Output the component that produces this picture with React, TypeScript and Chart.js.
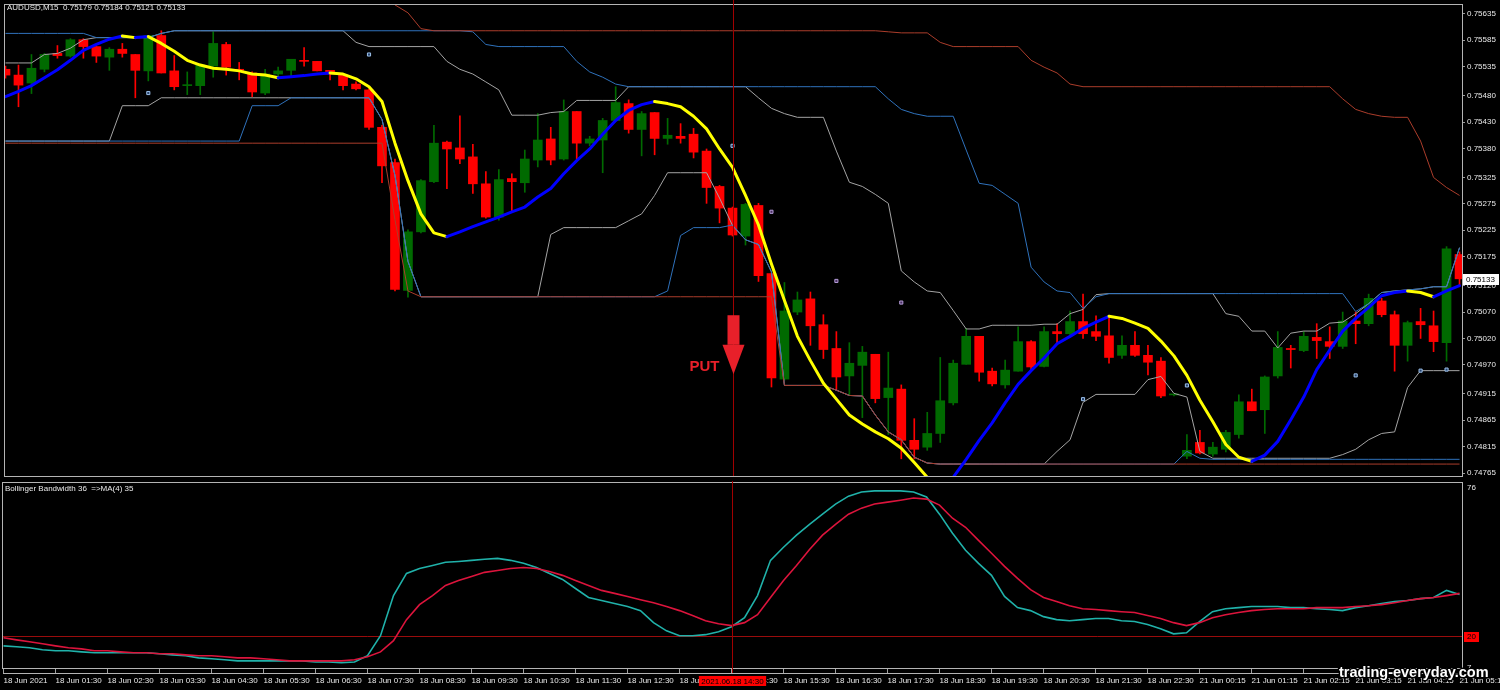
import React, { useEffect, useRef } from 'react';
import { Chart, registerables } from 'chart.js';

Chart.register(...registerables);

const FONT = "'Liberation Sans', Arial, sans-serif";

// ---------- meta ----------
const symbol = 'AUDUSD,M15';
const lowerTitle = 'Bollinger Bandwidth 36  =>MA(4) 35';
const crossIndex = 56;
const crossTimeLabel = '2021.06.18 14:30';
const signalIndex = 56;
const signalText = 'PUT';
const arrowTop = 0.75064;
const arrowNeck = 0.75008;
const arrowTip = 0.74952;
const levelValue = 20;
const lowerMax = 76;
const lowerMin = 8.3;
const lowerMaxLabel = '76';
const lowerMinLabel = '7';

const priceTicks = [0.75635, 0.75585, 0.75535, 0.7548, 0.7543, 0.7538, 0.75325, 0.75275, 0.75225, 0.75175,
  0.7512, 0.7507, 0.7502, 0.7497, 0.74915, 0.74865, 0.74815, 0.74765];

const timeTickIndex = [0, 4, 8, 12, 16, 20, 24, 28, 32, 36, 40, 44, 48, 52, 56, 60, 64, 68, 72, 76, 80, 84, 88, 92, 96, 100, 104, 108, 112];
const timeLabels = ['18 Jun 2021', '18 Jun 01:30', '18 Jun 02:30', '18 Jun 03:30', '18 Jun 04:30', '18 Jun 05:30',
  '18 Jun 06:30', '18 Jun 07:30', '18 Jun 08:30', '18 Jun 09:30', '18 Jun 10:30', '18 Jun 11:30', '18 Jun 12:30',
  '18 Jun 13:30', '18 Jun 14:30', '18 Jun 15:30', '18 Jun 16:30', '18 Jun 17:30', '18 Jun 18:30', '18 Jun 19:30',
  '18 Jun 20:30', '18 Jun 21:30', '18 Jun 22:30', '21 Jun 00:15', '21 Jun 01:15', '21 Jun 02:15', '21 Jun 03:15',
  '21 Jun 04:15', '21 Jun 05:15'];

// ---------- candles ----------
const open = [0.7553, 0.75519, 0.75504, 0.7553, 0.7556, 0.75555, 0.75586, 0.75573, 0.75553, 0.75568,
  0.75558, 0.75527, 0.75594, 0.75527, 0.75499, 0.75499, 0.75536, 0.75577, 0.7553, 0.75523,
  0.75485, 0.75521, 0.75528, 0.75547, 0.75545, 0.75528, 0.75519, 0.75502, 0.75491, 0.7542,
  0.75353, 0.75111, 0.75222, 0.75317, 0.75392, 0.75381, 0.75364, 0.75313, 0.7525, 0.75323,
  0.75315, 0.75358, 0.75398, 0.7536, 0.7545, 0.7539, 0.75396, 0.75433, 0.75465, 0.75416,
  0.75448, 0.75399, 0.75403, 0.75407, 0.75375, 0.75308, 0.75267, 0.75214, 0.75272, 0.75143,
  0.74943, 0.7507, 0.75095, 0.75046, 0.75001, 0.74949, 0.74969, 0.7499, 0.74908, 0.74924,
  0.74827, 0.74814, 0.7484, 0.74898, 0.74971, 0.75024, 0.74958, 0.74932, 0.74958, 0.75014,
  0.74967, 0.75033, 0.75029, 0.75052, 0.75033, 0.75025, 0.74988, 0.75007, 0.74988, 0.74977,
  0.74913, 0.74797, 0.74823, 0.74801, 0.7481, 0.74838, 0.749, 0.74885, 0.74949, 0.75001,
  0.74997, 0.75022, 0.75014, 0.75005, 0.75053, 0.75048, 0.75091, 0.75065, 0.75007, 0.75052,
  0.75044, 0.75012, 0.75179];
const high = [0.75536, 0.75538, 0.75558, 0.7556, 0.75575, 0.75588, 0.75588, 0.75573, 0.75571, 0.75579,
  0.75558, 0.75594, 0.75603, 0.75556, 0.75525, 0.7554, 0.75601, 0.75581, 0.75543, 0.75525,
  0.7553, 0.75534, 0.75549, 0.75571, 0.75545, 0.75528, 0.75521, 0.75506, 0.75493, 0.75424,
  0.7536, 0.75226, 0.75321, 0.75424, 0.75394, 0.75442, 0.75388, 0.75336, 0.7534, 0.75332,
  0.75377, 0.75446, 0.7542, 0.75472, 0.7545, 0.75403, 0.75437, 0.75497, 0.75472, 0.7545,
  0.75448, 0.75437, 0.75427, 0.75418, 0.75379, 0.7531, 0.75269, 0.75276, 0.75276, 0.75145,
  0.75126, 0.75108, 0.75108, 0.75065, 0.75033, 0.75012, 0.75005, 0.7499, 0.74994, 0.74932,
  0.74868, 0.7488, 0.74984, 0.74979, 0.75039, 0.75024, 0.74964, 0.74979, 0.75042, 0.75016,
  0.75042, 0.75048, 0.75072, 0.75104, 0.75063, 0.75063, 0.75025, 0.75033, 0.75007, 0.74984,
  0.74913, 0.74838, 0.74846, 0.74823, 0.74846, 0.74913, 0.74924, 0.74949, 0.75033, 0.75007,
  0.75033, 0.75048, 0.75042, 0.7507, 0.7507, 0.75104, 0.75096, 0.75072, 0.75053, 0.75077,
  0.75072, 0.75194, 0.75184];
const low = [0.75513, 0.75459, 0.75484, 0.75525, 0.75551, 0.75553, 0.75551, 0.75543, 0.75528, 0.75553,
  0.75476, 0.75508, 0.75523, 0.75491, 0.75482, 0.75482, 0.75515, 0.75519, 0.7551, 0.75478,
  0.75482, 0.75512, 0.75515, 0.75536, 0.75527, 0.7551, 0.75491, 0.75491, 0.75416, 0.75315,
  0.7511, 0.75098, 0.7522, 0.75315, 0.75304, 0.75351, 0.75295, 0.75248, 0.75244, 0.75261,
  0.75297, 0.75345, 0.75349, 0.75358, 0.7536, 0.75385, 0.75334, 0.75433, 0.75409, 0.75366,
  0.75368, 0.75388, 0.7539, 0.75362, 0.75276, 0.75239, 0.75214, 0.75197, 0.75128, 0.74928,
  0.74941, 0.75065, 0.75007, 0.74982, 0.74922, 0.74913, 0.7487, 0.74898, 0.74838, 0.74792,
  0.74792, 0.74808, 0.74823, 0.74894, 0.74971, 0.74939, 0.7493, 0.74926, 0.74958, 0.7496,
  0.74966, 0.7501, 0.75025, 0.7502, 0.75016, 0.74973, 0.74982, 0.74986, 0.74951, 0.74908,
  0.74911, 0.74792, 0.74801, 0.74797, 0.74805, 0.74831, 0.74883, 0.7484, 0.74945, 0.74964,
  0.74995, 0.74982, 0.74982, 0.75001, 0.7501, 0.75044, 0.75061, 0.74958, 0.74977, 0.7502,
  0.74995, 0.74977, 0.75121];
const close = [0.75519, 0.755, 0.75532, 0.75558, 0.75556, 0.75586, 0.75573, 0.75555, 0.75568, 0.7556,
  0.75528, 0.75594, 0.75523, 0.75497, 0.755, 0.75538, 0.75579, 0.75534, 0.75528, 0.75487,
  0.75521, 0.75527, 0.75549, 0.75545, 0.75527, 0.75521, 0.75499, 0.75493, 0.7542, 0.75347,
  0.75113, 0.75222, 0.75319, 0.7539, 0.75379, 0.7536, 0.75313, 0.7525, 0.75321, 0.75317,
  0.7536, 0.75396, 0.75358, 0.7545, 0.7539, 0.75398, 0.75433, 0.75467, 0.75416, 0.75446,
  0.75399, 0.75405, 0.75399, 0.75373, 0.75306, 0.75267, 0.75216, 0.75274, 0.75139, 0.74945,
  0.75072, 0.75093, 0.75044, 0.74999, 0.74947, 0.74973, 0.74994, 0.74906, 0.74926, 0.74827,
  0.7481, 0.7484, 0.74902, 0.74973, 0.75024, 0.74956, 0.74934, 0.7496, 0.75014, 0.74966,
  0.75033, 0.75029, 0.75052, 0.75029, 0.75024, 0.74984, 0.75007, 0.74988, 0.74975, 0.74911,
  0.74913, 0.74808, 0.74803, 0.74814, 0.74842, 0.749, 0.74883, 0.74947, 0.75003, 0.74999,
  0.75024, 0.75016, 0.75005, 0.75053, 0.75048, 0.75096, 0.75065, 0.75007, 0.7505, 0.75046,
  0.75014, 0.7519, 0.75133];

// ---------- moving average (colour by slope) ----------
const maLine = [0.75478, 0.75488, 0.75499, 0.75514, 0.75529, 0.75547, 0.75566, 0.75577, 0.75587, 0.75593,
  0.7559, 0.75592, 0.75579, 0.75564, 0.75547, 0.75538, 0.75532, 0.7553, 0.75527, 0.75521,
  0.75519, 0.75514, 0.75516, 0.75518, 0.75521, 0.75523, 0.75521, 0.75512, 0.75497, 0.75469,
  0.7539, 0.75319, 0.75256, 0.7522, 0.75213, 0.75222, 0.75232, 0.75241, 0.7525, 0.7526,
  0.75269, 0.75288, 0.75304, 0.75332, 0.75357, 0.75379, 0.75407, 0.75433, 0.75452, 0.75463,
  0.75469, 0.75465, 0.75459, 0.75441, 0.75417, 0.75379, 0.75344, 0.75291, 0.75235, 0.75161,
  0.75092, 0.75024, 0.74978, 0.74935, 0.74905, 0.74875, 0.74858, 0.74843, 0.7483, 0.74812,
  0.74785, 0.74757, 0.74746, 0.74757, 0.74791, 0.74827, 0.7486, 0.74898, 0.74933, 0.74959,
  0.74983, 0.7501, 0.75024, 0.75039, 0.75051, 0.75062, 0.75058, 0.75049, 0.75039, 0.75015,
  0.74987, 0.7495, 0.74903, 0.74862, 0.74819, 0.74795, 0.74787, 0.74799, 0.74825, 0.74866,
  0.74909, 0.74961, 0.74998, 0.75034, 0.75058, 0.75079, 0.75101, 0.75107, 0.7511, 0.75107,
  0.75099, 0.7511, 0.7512];

// ---------- channels ----------
const redUpper = [0.7568, 0.7568, 0.7568, 0.7568, 0.7568, 0.7568, 0.7568, 0.7568, 0.7568, 0.7568,
  0.7568, 0.7568, 0.7568, 0.7568, 0.7568, 0.7568, 0.7568, 0.7568, 0.7568, 0.7568,
  0.7568, 0.7568, 0.7568, 0.7568, 0.7568, 0.7568, 0.7568, 0.7568, 0.7568, 0.7568,
  0.75652, 0.75637, 0.75607, 0.75603, 0.75603, 0.75603, 0.75603, 0.75603, 0.75603, 0.75603,
  0.75603, 0.75603, 0.75603, 0.75603, 0.75603, 0.75603, 0.75603, 0.75603, 0.75603, 0.75603,
  0.75603, 0.75603, 0.75603, 0.75603, 0.75603, 0.75603, 0.75603, 0.75603, 0.75603, 0.75603,
  0.75603, 0.75603, 0.75603, 0.75603, 0.75603, 0.75603, 0.75603, 0.75603, 0.75601, 0.75599,
  0.75599, 0.75599, 0.75581, 0.75573, 0.75573, 0.75573, 0.75573, 0.75573, 0.75573, 0.75547,
  0.75534, 0.75523, 0.75502, 0.75497, 0.75497, 0.75497, 0.75497, 0.75497, 0.75497, 0.75497,
  0.75497, 0.75497, 0.75497, 0.75497, 0.75497, 0.75497, 0.75497, 0.75497, 0.75497, 0.75497,
  0.75497, 0.75497, 0.75497, 0.75474, 0.75454, 0.75446, 0.75441, 0.75439, 0.75439, 0.75394,
  0.75325, 0.75306, 0.75291];
const redLower = [0.7539, 0.7539, 0.7539, 0.7539, 0.7539, 0.7539, 0.7539, 0.7539, 0.7539, 0.7539,
  0.7539, 0.7539, 0.7539, 0.7539, 0.7539, 0.7539, 0.7539, 0.7539, 0.7539, 0.7539,
  0.7539, 0.7539, 0.7539, 0.7539, 0.7539, 0.7539, 0.7539, 0.7539, 0.7539, 0.7539,
  0.75245, 0.7511, 0.75099, 0.75099, 0.75099, 0.75099, 0.75099, 0.75099, 0.75099, 0.75099,
  0.75099, 0.75099, 0.75099, 0.75099, 0.75099, 0.75099, 0.75099, 0.75099, 0.75099, 0.75099,
  0.75099, 0.75099, 0.75099, 0.75099, 0.75099, 0.75099, 0.75099, 0.75099, 0.75099, 0.75099,
  0.74931, 0.74931, 0.74931, 0.74931, 0.74922, 0.74912, 0.74911, 0.74875, 0.74843, 0.74828,
  0.74795, 0.74784, 0.74782, 0.74782, 0.74782, 0.74782, 0.74782, 0.74782, 0.74782, 0.74782,
  0.74782, 0.74782, 0.74782, 0.74782, 0.74782, 0.74782, 0.74782, 0.74782, 0.74782, 0.74782,
  0.74782, 0.74782, 0.74782, 0.74782, 0.74782, 0.74782, 0.74782, 0.74782, 0.74782, 0.74782,
  0.74782, 0.74782, 0.74782, 0.74782, 0.74782, 0.74782, 0.74782, 0.74782, 0.74782, 0.74782,
  0.74782, 0.74782, 0.74782];
const blueUpper = [0.75598, 0.75598, 0.75598, 0.75598, 0.75598, 0.75598, 0.75598, 0.7559, 0.7559, 0.7559,
  0.7559, 0.7559, 0.75598, 0.75603, 0.75603, 0.75603, 0.75603, 0.75603, 0.75603, 0.75603,
  0.75603, 0.75603, 0.75603, 0.75603, 0.75603, 0.75603, 0.75603, 0.75603, 0.75603, 0.75603,
  0.75603, 0.75603, 0.75603, 0.75603, 0.75603, 0.75603, 0.75601, 0.75577, 0.75573, 0.75573,
  0.75573, 0.75573, 0.75573, 0.75573, 0.75545, 0.75525, 0.75515, 0.75502, 0.75497, 0.75497,
  0.75497, 0.75497, 0.75497, 0.75497, 0.75497, 0.75497, 0.75497, 0.75497, 0.75497, 0.75497,
  0.75497, 0.75497, 0.75497, 0.75497, 0.75497, 0.75497, 0.75497, 0.75497, 0.75474, 0.75454,
  0.75446, 0.75441, 0.75441, 0.75441, 0.75377, 0.75314, 0.7531, 0.75293, 0.75276, 0.75155,
  0.75127, 0.7511, 0.75107, 0.75077, 0.75099, 0.75105, 0.75105, 0.75105, 0.75105, 0.75105,
  0.75105, 0.75105, 0.75105, 0.75105, 0.75105, 0.75105, 0.75105, 0.75105, 0.75105, 0.75105,
  0.75105, 0.75105, 0.75105, 0.75105, 0.75071, 0.75086, 0.75107, 0.7511, 0.75112, 0.75114,
  0.75118, 0.75118, 0.75192];
const blueLower = [0.75394, 0.75394, 0.75394, 0.75394, 0.75394, 0.75394, 0.75394, 0.75394, 0.75394, 0.75394,
  0.75394, 0.75394, 0.75394, 0.75394, 0.75394, 0.75394, 0.75394, 0.75394, 0.75394, 0.75461,
  0.75461, 0.75461, 0.75476, 0.75476, 0.75476, 0.75476, 0.75476, 0.75476, 0.75476, 0.75435,
  0.75329, 0.75166, 0.75099, 0.75099, 0.75099, 0.75099, 0.75099, 0.75099, 0.75099, 0.75099,
  0.75099, 0.75099, 0.75099, 0.75099, 0.75099, 0.75099, 0.75099, 0.75099, 0.75099, 0.75099,
  0.75099, 0.7511, 0.75215, 0.7523, 0.7523, 0.7523, 0.75235, 0.75207, 0.75198, 0.75146,
  0.74931, 0.74931, 0.74931, 0.74931, 0.74922, 0.74912, 0.74911, 0.74875, 0.74843, 0.74828,
  0.74795, 0.74784, 0.74782, 0.74782, 0.74782, 0.74782, 0.74782, 0.74782, 0.74782, 0.74782,
  0.74782, 0.74782, 0.74782, 0.74782, 0.74782, 0.74782, 0.74782, 0.74782, 0.74782, 0.74782,
  0.74782, 0.74806, 0.74793, 0.74791, 0.74791, 0.74791, 0.74791, 0.74791, 0.74791, 0.74791,
  0.74791, 0.74791, 0.74791, 0.74791, 0.74791, 0.74791, 0.74791, 0.74791, 0.74791, 0.74791,
  0.74791, 0.74791, 0.74791];
const grayUpper = [0.75542, 0.75542, 0.75542, 0.75558, 0.7556, 0.7557, 0.75586, 0.7559, 0.7559, 0.7559,
  0.7559, 0.7559, 0.75598, 0.75603, 0.75603, 0.75603, 0.75603, 0.75603, 0.75603, 0.75603,
  0.75603, 0.75603, 0.75603, 0.75603, 0.75603, 0.75603, 0.75603, 0.75581, 0.75573, 0.75573,
  0.75573, 0.75573, 0.75573, 0.75573, 0.75545, 0.7553, 0.75521, 0.75506, 0.75491, 0.75443,
  0.75443, 0.75443, 0.75448, 0.7545, 0.75471, 0.75471, 0.75471, 0.75471, 0.75497, 0.75497,
  0.75497, 0.75497, 0.75497, 0.75497, 0.75497, 0.75497, 0.75497, 0.75497, 0.75476, 0.75456,
  0.75446, 0.75439, 0.75439, 0.75439, 0.75375, 0.75316, 0.75308, 0.75293, 0.75276, 0.75148,
  0.75127, 0.7511, 0.75107, 0.75073, 0.75038, 0.75038, 0.75045, 0.75045, 0.75045, 0.75045,
  0.75047, 0.75047, 0.75067, 0.75075, 0.75103, 0.75105, 0.75105, 0.75105, 0.75105, 0.75105,
  0.75105, 0.75105, 0.75105, 0.75105, 0.75067, 0.75062, 0.75034, 0.75034, 0.75002, 0.7503,
  0.75034, 0.75034, 0.75049, 0.75051, 0.75067, 0.75086, 0.75107, 0.7511, 0.75112, 0.75114,
  0.75118, 0.75118, 0.75192];
const grayLower = [0.75394, 0.75394, 0.75394, 0.75394, 0.75394, 0.75394, 0.75394, 0.75394, 0.75394, 0.75461,
  0.75461, 0.75461, 0.75476, 0.75476, 0.75476, 0.75476, 0.75476, 0.75476, 0.75476, 0.75476,
  0.75476, 0.75476, 0.75476, 0.75476, 0.75476, 0.75476, 0.75476, 0.75476, 0.75476, 0.75435,
  0.75329, 0.75166, 0.75099, 0.75099, 0.75099, 0.75099, 0.75099, 0.75099, 0.75099, 0.75099,
  0.75099, 0.75099, 0.75217, 0.7523, 0.7523, 0.7523, 0.7523, 0.7523, 0.75243, 0.75256,
  0.75291, 0.75334, 0.75334, 0.75334, 0.75334, 0.75286, 0.75234, 0.75207, 0.75198, 0.75146,
  0.74931, 0.74931, 0.74931, 0.74931, 0.74922, 0.74912, 0.74911, 0.74875, 0.74843, 0.74828,
  0.74795, 0.74784, 0.74782, 0.74782, 0.74782, 0.74782, 0.74782, 0.74782, 0.74782, 0.74782,
  0.74782, 0.74806, 0.74828, 0.74899, 0.74914, 0.74914, 0.74914, 0.74914, 0.74942, 0.74948,
  0.74916, 0.74909, 0.74806, 0.74793, 0.74793, 0.74793, 0.74793, 0.74793, 0.74793, 0.74793,
  0.74793, 0.74793, 0.74793, 0.748, 0.7481, 0.74828, 0.7484, 0.74843, 0.74927, 0.74959,
  0.74959, 0.74959, 0.74959];

// ---------- signal markers ----------
const blueMarkerIndex = [11, 28, 56, 83, 91, 104, 109, 111];
const blueMarkerPrice = [0.75485, 0.75558, 0.75385, 0.74905, 0.74931, 0.7495, 0.74959, 0.74961];
const violetMarkerIndex = [59, 64, 69];
const violetMarkerPrice = [0.7526, 0.75129, 0.75088];

// ---------- lower panel: bandwidth & its MA ----------
const bandwidth = [16.4, 16.1, 15.7, 15.0, 14.6, 14.6, 14.2, 13.9, 13.9, 13.9,
  13.9, 13.9, 13.5, 13.1, 12.8, 12.0, 11.7, 11.3, 10.9, 10.9,
  10.9, 10.9, 10.9, 10.9, 10.5, 10.5, 10.2, 10.5, 12.8, 20.1,
  34.8, 42.9, 44.7, 45.8, 47.0, 47.3, 47.7, 48.1, 48.4, 47.7,
  46.6, 45.1, 42.9, 40.7, 37.4, 34.1, 33.0, 31.9, 30.8, 29.3,
  24.9, 21.9, 20.1, 20.1, 20.5, 21.6, 23.4, 26.7, 34.8, 47.7,
  52.5, 56.9, 60.9, 64.6, 68.3, 71.2, 72.7, 73.1, 73.1, 73.1,
  72.7, 70.9, 64.6, 57.6, 51.4, 46.6, 42.2, 34.5, 30.4, 29.3,
  27.1, 26.0, 25.6, 26.0, 26.4, 26.4, 25.6, 25.3, 24.2, 22.7,
  20.8, 21.2, 25.3, 28.9, 30.0, 30.4, 30.8, 30.8, 30.8, 30.4,
  30.4, 30.0, 29.7, 29.3, 30.4, 31.1, 31.9, 32.6, 33.0, 33.7,
  34.1, 36.7, 35.2];
const bandwidthMa = [19.4, 18.6, 17.9, 17.2, 16.4, 15.7, 15.3, 14.6, 14.6, 14.2,
  13.9, 13.9, 13.5, 13.5, 13.1, 12.8, 12.8, 12.4, 12.0, 12.0,
  11.7, 11.3, 10.9, 10.9, 10.9, 10.9, 10.9, 11.3, 12.4, 14.2,
  18.3, 26.0, 31.5, 34.8, 38.5, 40.3, 41.8, 43.3, 44.0, 44.7,
  45.1, 44.7, 43.6, 42.2, 40.3, 38.5, 36.7, 35.6, 34.5, 33.3,
  32.2, 30.8, 29.3, 27.5, 25.6, 24.5, 23.8, 24.9, 27.8, 34.1,
  40.3, 45.8, 51.7, 56.9, 60.9, 64.6, 66.8, 68.3, 69.0, 69.7,
  70.5, 70.1, 67.9, 63.1, 59.8, 55.0, 50.3, 45.5, 41.1, 37.0,
  34.1, 32.6, 31.1, 30.0, 29.7, 29.3, 28.9, 28.6, 27.5, 26.4,
  24.9, 23.8, 24.9, 26.7, 27.8, 28.6, 29.3, 29.7, 30.0, 30.0,
  30.0, 30.4, 30.4, 30.4, 30.8, 31.1, 31.5, 32.2, 33.0, 33.7,
  34.1, 34.8, 35.6];

// ---------- view ----------
const X_MIN = -0.0385;
const X_MAX = 112.19;
const PRICE_MIN = 0.747594;
const PRICE_MAX = 0.756518;

const BULL = '#006a00';
const BEAR = '#ff0000';
const FRAME = '#b4b4b4';
const CROSS = '#a00000';
const TEXT = '#e8e8e8';

const pts = (arr: number[]) => arr.map((v, i) => ({ x: i, y: v }));
const lineDs = (label: string, data: number[], color: string, order: number) => ({
  type: 'line', label, data: pts(data), borderColor: color, borderWidth: 1, pointRadius: 0,
  tension: 0, fill: false, order,
});

const topOverlay = {
  id: 'topOverlay',
  afterDraw(chart: any) {
    const { ctx, chartArea: a } = chart;
    const xs = chart.scales.x;
    const ys = chart.scales.y;
    ctx.save();
    ctx.lineWidth = 1;
    ctx.strokeStyle = FRAME;
    ctx.strokeRect(a.left - 0.5, a.top - 0.5, a.right - a.left + 1, a.bottom - a.top + 1);
    // crosshair
    const cx = Math.round(xs.getPixelForValue(crossIndex)) + 0.5;
    ctx.strokeStyle = CROSS;
    ctx.beginPath();
    ctx.moveTo(cx, 0);
    ctx.lineTo(cx, a.bottom);
    ctx.stroke();
    // signal arrow
    const ax = Math.round(xs.getPixelForValue(signalIndex)) + 0.5;
    const yT = ys.getPixelForValue(arrowTop);
    const yN = ys.getPixelForValue(arrowNeck);
    const yP = ys.getPixelForValue(arrowTip);
    ctx.fillStyle = '#e8202a';
    ctx.fillRect(ax - 6, yT, 12, yN - yT);
    ctx.beginPath();
    ctx.moveTo(ax - 11, yN);
    ctx.lineTo(ax + 11, yN);
    ctx.lineTo(ax, yP);
    ctx.closePath();
    ctx.fill();
    ctx.font = `bold 15px ${FONT}`;
    ctx.textAlign = 'right';
    ctx.textBaseline = 'alphabetic';
    ctx.fillText(signalText, ax - 14, yP - 3);
    // header
    const n = close.length - 1;
    ctx.font = `8px ${FONT}`;
    ctx.textAlign = 'left';
    ctx.textBaseline = 'middle';
    ctx.fillStyle = TEXT;
    ctx.fillText(`${symbol}  ${open[n].toFixed(5)} ${high[n].toFixed(5)} ${low[n].toFixed(5)} ${close[n].toFixed(5)}`, 7, 8);
    // last price box
    const py = Math.round(ys.getPixelForValue(close[n]));
    ctx.fillStyle = '#ffffff';
    ctx.fillRect(a.right + 1, py - 5, 36, 11);
    ctx.fillStyle = '#000000';
    ctx.fillText(close[n].toFixed(5), a.right + 4, py + 0.5);
    ctx.restore();
  },
};

const lowerOverlay = {
  id: 'lowerOverlay',
  beforeDatasetsDraw(chart: any) {
    const { ctx, chartArea: a } = chart;
    const ys = chart.scales.y;
    const ly = Math.round(ys.getPixelForValue(levelValue)) + 0.5;
    ctx.save();
    ctx.strokeStyle = '#9a0c0c';
    ctx.lineWidth = 1;
    ctx.beginPath();
    ctx.moveTo(a.left, ly);
    ctx.lineTo(a.right, ly);
    ctx.stroke();
    ctx.restore();
  },
  afterDraw(chart: any) {
    const { ctx, chartArea: a } = chart;
    const xs = chart.scales.x;
    const ys = chart.scales.y;
    ctx.save();
    ctx.lineWidth = 1;
    ctx.strokeStyle = FRAME;
    ctx.strokeRect(a.left - 0.5, a.top - 0.5, a.right - a.left + 1, a.bottom - a.top + 1);
    // time axis baseline
    ctx.beginPath();
    ctx.moveTo(a.left, a.bottom + 5.5);
    ctx.lineTo(a.right + 1, a.bottom + 5.5);
    ctx.stroke();
    // crosshair
    const cx = Math.round(xs.getPixelForValue(crossIndex)) + 0.5;
    ctx.strokeStyle = CROSS;
    ctx.beginPath();
    ctx.moveTo(cx, 0);
    ctx.lineTo(cx, a.bottom + 5);
    ctx.stroke();
    ctx.font = `8px ${FONT}`;
    ctx.textBaseline = 'middle';
    ctx.textAlign = 'center';
    const tw = ctx.measureText(crossTimeLabel).width + 5;
    ctx.fillStyle = '#ff0000';
    ctx.fillRect(cx - tw / 2, a.bottom + 8, tw, 10);
    ctx.fillStyle = '#000000';
    ctx.fillText(crossTimeLabel, cx, a.bottom + 13.5);
    // title
    ctx.textAlign = 'left';
    ctx.fillStyle = TEXT;
    ctx.fillText(lowerTitle, 5, a.top + 6);
    // right labels
    ctx.textBaseline = 'top';
    ctx.fillText(lowerMaxLabel, a.right + 5, a.top + 1);
    ctx.save();
    ctx.beginPath();
    ctx.rect(a.right + 1, a.top, 40, a.bottom - a.top);
    ctx.clip();
    ctx.fillText(lowerMinLabel, a.right + 5, a.bottom - 4);
    ctx.restore();
    const ly = Math.round(ys.getPixelForValue(levelValue));
    ctx.fillStyle = '#ff0000';
    ctx.fillRect(a.right + 2, ly - 4, 15, 10);
    ctx.fillStyle = '#000000';
    ctx.textBaseline = 'middle';
    ctx.fillText(String(levelValue), a.right + 5, ly + 1);
    // watermark
    ctx.font = `bold 14.5px ${FONT}`;
    ctx.textBaseline = 'alphabetic';
    ctx.lineWidth = 3;
    ctx.strokeStyle = '#000000';
    ctx.lineJoin = 'round';
    ctx.strokeText('trading-everyday.com', 1339, a.bottom + 9);
    ctx.fillStyle = '#ffffff';
    ctx.fillText('trading-everyday.com', 1339, a.bottom + 9);
    ctx.restore();
  },
};

export default function App() {
  const topRef = useRef<HTMLCanvasElement>(null);
  const botRef = useRef<HTMLCanvasElement>(null);

  useEffect(() => {
    const colors = close.map((c, i) => (c >= open[i] ? BULL : BEAR));
    const top = new Chart(topRef.current as HTMLCanvasElement, {
      type: 'bar',
      data: {
        datasets: [
          {
            type: 'line', label: 'MA', data: pts(maLine), borderWidth: 3, pointRadius: 0, tension: 0,
            borderColor: '#0000ff', borderJoinStyle: 'round', borderCapStyle: 'round', order: 0,
            segment: { borderColor: (c: any) => (c.p1.parsed.y >= c.p0.parsed.y ? '#0000ff' : '#ffff00') },
          },
          {
            type: 'scatter', label: 'sig1', data: blueMarkerIndex.map((x, i) => ({ x, y: blueMarkerPrice[i] })),
            pointStyle: 'rect', pointRadius: 2.2, backgroundColor: '#25406a', borderColor: '#9cc0ea', borderWidth: 1, order: 1,
          },
          {
            type: 'scatter', label: 'sig2', data: violetMarkerIndex.map((x, i) => ({ x, y: violetMarkerPrice[i] })),
            pointStyle: 'rect', pointRadius: 2.2, backgroundColor: '#4a3060', borderColor: '#b49cd8', borderWidth: 1, order: 1,
          },
          lineDs('redU', redUpper, '#ab3d2b', 2),
          lineDs('redL', redLower, '#ab3d2b', 2),
          lineDs('blueU', blueUpper, '#2f72bc', 3),
          lineDs('blueL', blueLower, '#2f72bc', 3),
          lineDs('grayU', grayUpper, '#a4a4a4', 4),
          lineDs('grayL', grayLower, '#a4a4a4', 4),
          {
            type: 'bar', label: 'body',
            data: open.map((o, i) => ({ x: i, y: [Math.min(o, close[i]), Math.max(o, close[i])] })),
            backgroundColor: colors, barThickness: 9, grouped: false, minBarLength: 1, borderWidth: 0, order: 5,
          },
          {
            type: 'bar', label: 'wick',
            data: low.map((l, i) => ({ x: i, y: [l, high[i]] })),
            backgroundColor: colors, barThickness: 1, grouped: false, minBarLength: 1, borderWidth: 0, order: 6,
          },
        ] as any,
      },
      options: {
        responsive: false,
        animation: false,
        events: [],
        layout: { padding: { left: 3, top: 2, right: 0, bottom: 1 } },
        plugins: { legend: { display: false }, tooltip: { enabled: false } },
        scales: {
          x: { type: 'linear', display: false, min: X_MIN, max: X_MAX, offset: false },
          y: {
            type: 'linear', position: 'right', min: PRICE_MIN, max: PRICE_MAX,
            afterBuildTicks: (s: any) => { s.ticks = priceTicks.map((v) => ({ value: v })); },
            afterFit: (s: any) => { s.width = 38; s.paddingTop = 0; s.paddingBottom = 0; },
            ticks: {
              callback: (v: any) => Number(v).toFixed(5), autoSkip: false, padding: 2,
              color: TEXT, font: { family: FONT, size: 8 },
            },
            grid: { drawOnChartArea: false, drawTicks: true, tickLength: 3, color: '#9a9a9a' },
            border: { display: false },
          },
        },
      } as any,
      plugins: [topOverlay],
    });

    const bot = new Chart(botRef.current as HTMLCanvasElement, {
      type: 'line',
      data: {
        datasets: [
          { label: 'bw', data: pts(bandwidth), borderColor: '#20b2aa', borderWidth: 1.6, pointRadius: 0, tension: 0, order: 1 },
          { label: 'ma', data: pts(bandwidthMa), borderColor: '#dc143c', borderWidth: 1.6, pointRadius: 0, tension: 0, order: 0 },
        ],
      },
      options: {
        responsive: false,
        animation: false,
        events: [],
        layout: { padding: { left: 3, top: 2, right: 38, bottom: 0 } },
        plugins: { legend: { display: false }, tooltip: { enabled: false } },
        scales: {
          x: {
            type: 'linear', min: X_MIN, max: X_MAX, offset: false,
            afterBuildTicks: (s: any) => { s.ticks = timeTickIndex.map((v) => ({ value: v })); },
            afterFit: (s: any) => { s.height = 22; s.paddingLeft = 0; s.paddingRight = 0; },
            ticks: {
              callback: (_v: any, idx: number) => timeLabels[idx], align: 'start', maxRotation: 0, minRotation: 0,
              autoSkip: false, padding: 2, color: TEXT, font: { family: FONT, size: 8 },
            },
            grid: { drawOnChartArea: false, drawTicks: true, tickLength: 6, color: '#a0a0a0' },
            border: { display: false },
          },
          y: { type: 'linear', display: false, min: lowerMin, max: lowerMax },
        },
      } as any,
      plugins: [lowerOverlay],
    });

    return () => {
      top.destroy();
      bot.destroy();
    };
  }, []);

  return (
    <div style={{ position: 'fixed', left: 0, top: 0, width: 1500, height: 690, background: '#000', overflow: 'hidden' }}>
      <canvas ref={topRef} width={1500} height={481} style={{ position: 'absolute', left: 0, top: 0 }} />
      <canvas ref={botRef} width={1500} height={209} style={{ position: 'absolute', left: 0, top: 481 }} />
    </div>
  );
}
